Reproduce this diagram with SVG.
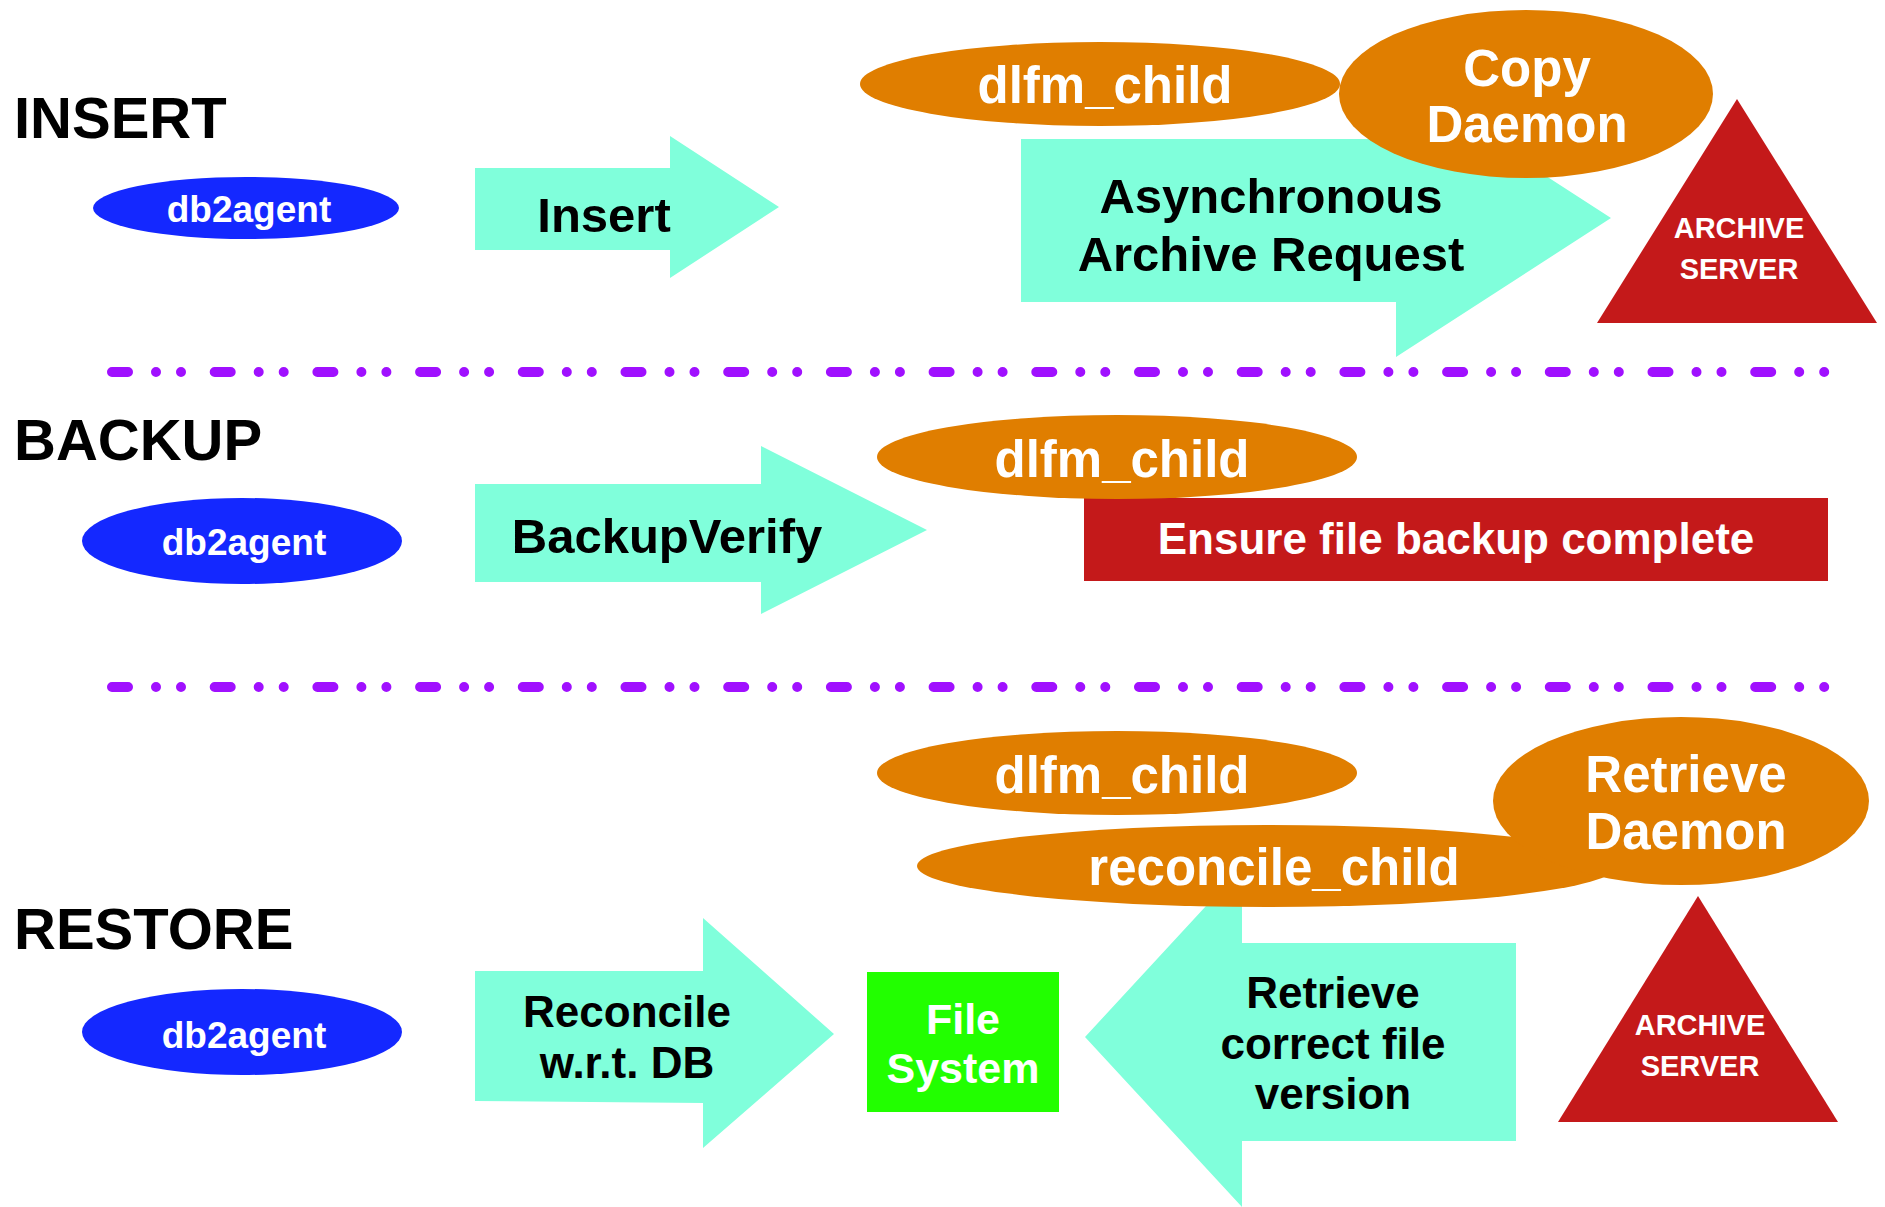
<svg xmlns="http://www.w3.org/2000/svg" width="1885" height="1207" viewBox="0 0 1885 1207">
<style>
.t{font-family:"Liberation Sans",Arial,Helvetica,sans-serif;font-weight:bold;text-anchor:middle}
.h{font-family:"Liberation Sans",Arial,Helvetica,sans-serif;font-weight:bold;font-size:58px;fill:#000}
.w{fill:#fff}.k{fill:#000}
.aq{fill:#80FFDB}.or{fill:#E07E00}.rd{fill:#C4191A}.bl{fill:#1428FF}.gr{fill:#22FF00}
.sep{stroke:#A010FF;stroke-width:10;stroke-linecap:round;stroke-dasharray:16 28 0 25 0 33.7;fill:none}
</style>
<rect width="1885" height="1207" fill="#fff"/>
<g id="section-labels">
<text class="h" x="14" y="138">INSERT</text>
<text class="h" x="14" y="460">BACKUP</text>
<text class="h" x="14" y="949">RESTORE</text>
</g>
<g id="separators">
<line class="sep" x1="112" y1="372" x2="1826" y2="372"/>
<line class="sep" x1="112" y1="687" x2="1826" y2="687"/>
</g>
<g id="connectors">
<g id="arrow-insert">
<polygon class="aq" points="475,168 670,168 670,136 779,207 670,278 670,250 475,250"/>
<text class="t k" x="604" y="232" font-size="49">Insert</text>
</g>
<g id="arrow-async">
<polygon class="aq" points="1021,139 1396,139 1396,79 1611,218 1396,357 1396,302 1021,302"/>
<text class="t k" x="1271" y="213" font-size="49">Asynchronous</text>
<text class="t k" x="1271" y="271" font-size="49">Archive Request</text>
</g>
<g id="arrow-backupverify">
<polygon class="aq" points="475,484 761,484 761,446 927,530 761,614 761,582 475,582"/>
<text class="t k" x="667" y="553" font-size="49">BackupVerify</text>
</g>
<g id="arrow-reconcile">
<polygon class="aq" points="475,971 703,971 703,918 834,1034 703,1148 703,1103 475,1101"/>
<text class="t k" x="627" y="1027" font-size="44">Reconcile</text>
<text class="t k" x="627" y="1078" font-size="44">w.r.t. DB</text>
</g>
<g id="arrow-retrieve">
<polygon class="aq" points="1516,943 1242,943 1242,867 1085,1037 1242,1207 1242,1141 1516,1141"/>
<text class="t k" x="1333" y="1008" font-size="44">Retrieve</text>
<text class="t k" x="1333" y="1059" font-size="44">correct file</text>
<text class="t k" x="1333" y="1109" font-size="44">version</text>
</g>
</g>
<g id="db2agent-insert">
<ellipse class="bl" cx="246" cy="208" rx="153" ry="31"/>
<text class="t w" x="249" y="222" font-size="37">db2agent</text>
</g>
<g id="dlfm-child-insert">
<ellipse class="or" cx="1100" cy="84" rx="240" ry="42"/>
<text class="t w" x="1105" y="103" font-size="51">dlfm_child</text>
</g>
<g id="copy-daemon">
<ellipse class="or" cx="1526" cy="94" rx="187" ry="84"/>
<text class="t w" x="1527" y="86" font-size="51">Copy</text>
<text class="t w" x="1527" y="142" font-size="51">Daemon</text>
</g>
<g id="archive-server-insert">
<polygon class="rd" points="1737,99 1877,323 1597,323"/>
<text class="t w" x="1739" y="238" font-size="29">ARCHIVE</text>
<text class="t w" x="1739" y="279" font-size="29">SERVER</text>
</g>
<g id="db2agent-backup">
<ellipse class="bl" cx="242" cy="541" rx="160" ry="43"/>
<text class="t w" x="244" y="555" font-size="37">db2agent</text>
</g>
<g id="ensure-backup">
<rect class="rd" x="1084" y="498" width="744" height="83"/>
<text class="t w" x="1456" y="554" font-size="44">Ensure file backup complete</text>
</g>
<g id="dlfm-child-backup">
<ellipse class="or" cx="1117" cy="457" rx="240" ry="42"/>
<text class="t w" x="1122" y="477" font-size="51">dlfm_child</text>
</g>
<g id="db2agent-restore">
<ellipse class="bl" cx="242" cy="1032" rx="160" ry="43"/>
<text class="t w" x="244" y="1048" font-size="37">db2agent</text>
</g>
<g id="file-system">
<rect class="gr" x="867" y="972" width="192" height="140"/>
<text class="t w" x="963" y="1034" font-size="43">File</text>
<text class="t w" x="963" y="1083" font-size="43">System</text>
</g>
<g id="dlfm-child-restore">
<ellipse class="or" cx="1117" cy="773" rx="240" ry="42"/>
<text class="t w" x="1122" y="793" font-size="51">dlfm_child</text>
</g>
<g id="reconcile-child">
<ellipse class="or" cx="1267" cy="866" rx="350" ry="41"/>
</g>
<g id="retrieve-daemon">
<ellipse class="or" cx="1681" cy="801" rx="188" ry="84"/>
<text class="t w" x="1686" y="792" font-size="51">Retrieve</text>
<text class="t w" x="1686" y="849" font-size="51">Daemon</text>
</g>
<g id="reconcile-child-label">
<text class="t w" x="1274" y="885" font-size="51">reconcile_child</text>
</g>
<g id="archive-server-restore">
<polygon class="rd" points="1698,896 1838,1122 1558,1122"/>
<text class="t w" x="1700" y="1035" font-size="29">ARCHIVE</text>
<text class="t w" x="1700" y="1076" font-size="29">SERVER</text>
</g>
</svg>
